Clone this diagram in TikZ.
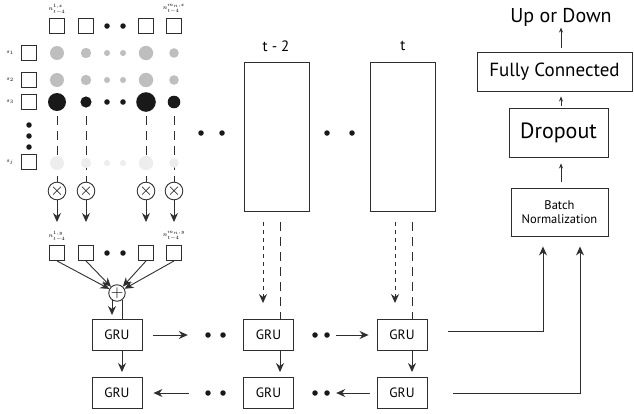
\documentclass[tikz,border=0pt]{standalone}
\usepackage{fontspec}
\setmainfont{PT Sans}
\usetikzlibrary{arrows.meta, positioning, calc}

\definecolor{linegray}{HTML}{2E2E2E}
\definecolor{dotgray}{HTML}{BEBEBE}
\definecolor{fadegray}{HTML}{EDEDED}

\begin{document}
\begin{tikzpicture}[x=1pt, y=-1pt, line width=0.9pt,
    sq/.style={draw=linegray, minimum size=15pt, inner sep=0pt},
    gru/.style={draw=linegray, minimum width=50pt, minimum height=31pt, inner sep=0pt, font=\fontsize{13.5}{15}\selectfont},
    box/.style={draw=linegray, inner sep=0pt, align=center},
    opc/.style={circle, draw=linegray, inner sep=0pt, font=\LARGE},
    arr/.style={-{Stealth[length=9pt, width=8pt]}, linegray},
    thinarr/.style={-{Stealth[length=5pt, width=4pt]}, linegray, line width=0.7pt},
    ldash/.style={linegray, dash pattern=on 9pt off 6pt},
    sdash/.style={linegray, dash pattern=on 4pt off 4pt},
    small/.style={font=\fontsize{6.5}{7}\selectfont, inner sep=0pt},
    blob/.style={circle, fill=black!90, inner sep=0pt, minimum size=5.5pt}
]
\useasboundingbox (0,0) rectangle (634,413);

% attention grid of day t-4
\foreach \i/\x in {1/57,2/86,3/146,4/174}{
    \node[sq] (x\i) at (\x,26) {};
    \node[sq] (y\i) at (\x,253) {};
    \node[opc, minimum size=16pt] (m\i) at (\x,191) {$\times$};
    \coordinate (c\i) at (\x,116);
    \coordinate (e\i) at (\x,222);
    \draw[ldash] (c\i) -- (m\i);
    \draw[arr] (m\i) -- (e\i);
}
\node[blob] (xd1) at (107,26) {};
\node[blob] (xd2) at (123,26) {};
\node[blob] (yd1) at (107,253) {};
\node[blob] (yd2) at (123,253) {};

\node[small] (nx1) at (57,9) {$n^{1,x}_{t-4}$};
\node[small] (nx4) at (174,9) {$n^{m_n,x}_{t-4}$};
\node[small] (ny1) at (57,236) {$n^{1,y}_{t-4}$};
\node[small] (ny4) at (174,236) {$n^{m_n,y}_{t-4}$};

\foreach \i/\y/\t in {1/53/1,2/80/2,3/102/3,j/162/j}{
    \node[sq] (s\i) at (29,\y) {};
    \node[small] (ls\i) at (10,\y) {$s_\t$};
}
\node[blob] (sd1) at (29,125) {};
\node[blob] (sd2) at (29,136) {};
\node[blob] (sd3) at (29,147) {};

\foreach \x/\r in {57/7,86/5.2,107/3,123/3,146/7.2,174/4.8}{
    \fill[dotgray] (\x,53) circle (\r);
    \fill[dotgray] (\x,80) circle (\r);
    \fill[fadegray] (\x,163) circle (\r);
}
\foreach \x/\r in {57/9,86/5.6,107/2.8,123/2.8,146/9.8,174/6.3}
    \fill[black!90] (\x,102) circle (\r);

\node[opc, minimum size=15pt] (sum) at (117,293) {$+$};
\foreach \i in {1,...,4}
    \draw[arr] (y\i.south) -- (sum);

% days t-2 and t
\node[box, minimum width=65pt, minimum height=149pt] (r2) at (276.5,136.5) {};
\node[box, minimum width=65pt, minimum height=149pt] (r3) at (402.5,136.5) {};
\node[font=\fontsize{15}{17}\selectfont] (tl2) at (276,46) {t - 2};
\node[font=\fontsize{15}{17}\selectfont] (tl3) at (403,46) {t};
\node[blob] (rd1) at (201,133) {};
\node[blob] (rd2) at (222,133) {};
\node[blob] (rd3) at (327,133) {};
\node[blob] (rd4) at (352,133) {};

% GRU layers
\node[gru] (g1) at (117,335) {GRU};
\node[gru] (g2) at (268.5,335) {GRU};
\node[gru] (g3) at (402,335) {GRU};
\node[gru] (h1) at (117,393) {GRU};
\node[gru] (h2) at (268.5,393) {GRU};
\node[gru] (h3) at (402,393) {GRU};
\foreach \i/\x in {1/208,2/223,3/315,4/327}{
    \node[blob] (gd\i) at (\x,335) {};
    \node[blob] (hd\i) at (\x,393) {};
}

\coordinate (a1) at (sum.235);
\coordinate (b1) at (sum.-55);
\coordinate (a2) at (263,222);
\coordinate (b2) at (280,222);
\coordinate (a3) at (395,222);
\coordinate (b3) at (412,222);

\draw[arr, shorten >=4pt] (a1) -- (a1 |- g1.north);
\draw[linegray] (b1) -- (b1 |- g1.north);
\draw[sdash, arr, shorten >=16pt] (a2) -- (a2 |- g2.north);
\draw[ldash] (b2) -- (b2 |- g2.north);
\draw[sdash, arr, shorten >=16pt] (a3) -- (a3 |- g3.north);
\draw[ldash] (b3) -- (b3 |- g3.north);

\draw[arr, shorten >=5pt] (b1 |- g1.south) -- (b1 |- h1.north);
\draw[arr, shorten >=5pt] (b2 |- g2.south) -- (b2 |- h2.north);
\draw[arr, shorten >=5pt] (b3 |- g3.south) -- (b3 |- h3.north);

\draw[arr, shorten <=11pt, shorten >=17pt] (g1) -- (gd1);
\draw[arr, shorten <=6pt, shorten >=8pt] (gd4) -- (g3);
\draw[arr, shorten <=16pt, shorten >=11pt] (hd1) -- (h1);
\draw[arr, shorten <=7pt, shorten >=6pt] (h3) -- (hd4);

% output layers
\node[box, minimum width=97pt, minimum height=48pt, font=\fontsize{12.5}{14}\selectfont] (bn) at (559.5,212) {Batch\\Normalization};
\node[box, minimum width=99pt, minimum height=49pt, font=\fontsize{22}{24}\selectfont] (dp) at (558.5,132.5) {Dropout};
\node[box, minimum width=155pt, minimum height=39pt, font=\fontsize{19}{21}\selectfont] (fc) at (554.5,71.5) {Fully Connected};
\node[inner sep=0pt, font=\fontsize{20}{22}\selectfont] (out) at (561,17) {Up or Down};

\draw[thinarr, shorten <=6pt, shorten >=6pt] (bn.north -| out) -- (dp.south -| out);
\draw[thinarr, shorten <=2pt, shorten >=5pt] (dp.north -| out) -- (fc.south -| out);
\draw[thinarr, shorten <=4pt, shorten >=1pt] (fc.north -| out) -- (out);

\draw[arr] ([xshift=21pt, yshift=4pt]g3.east) -| ([xshift=-16.5pt, yshift=-10pt]bn.south);
\draw[arr] ([xshift=26pt]h3.east) -| ([xshift=20.5pt, yshift=-10pt]bn.south);
\end{tikzpicture}
\end{document}
